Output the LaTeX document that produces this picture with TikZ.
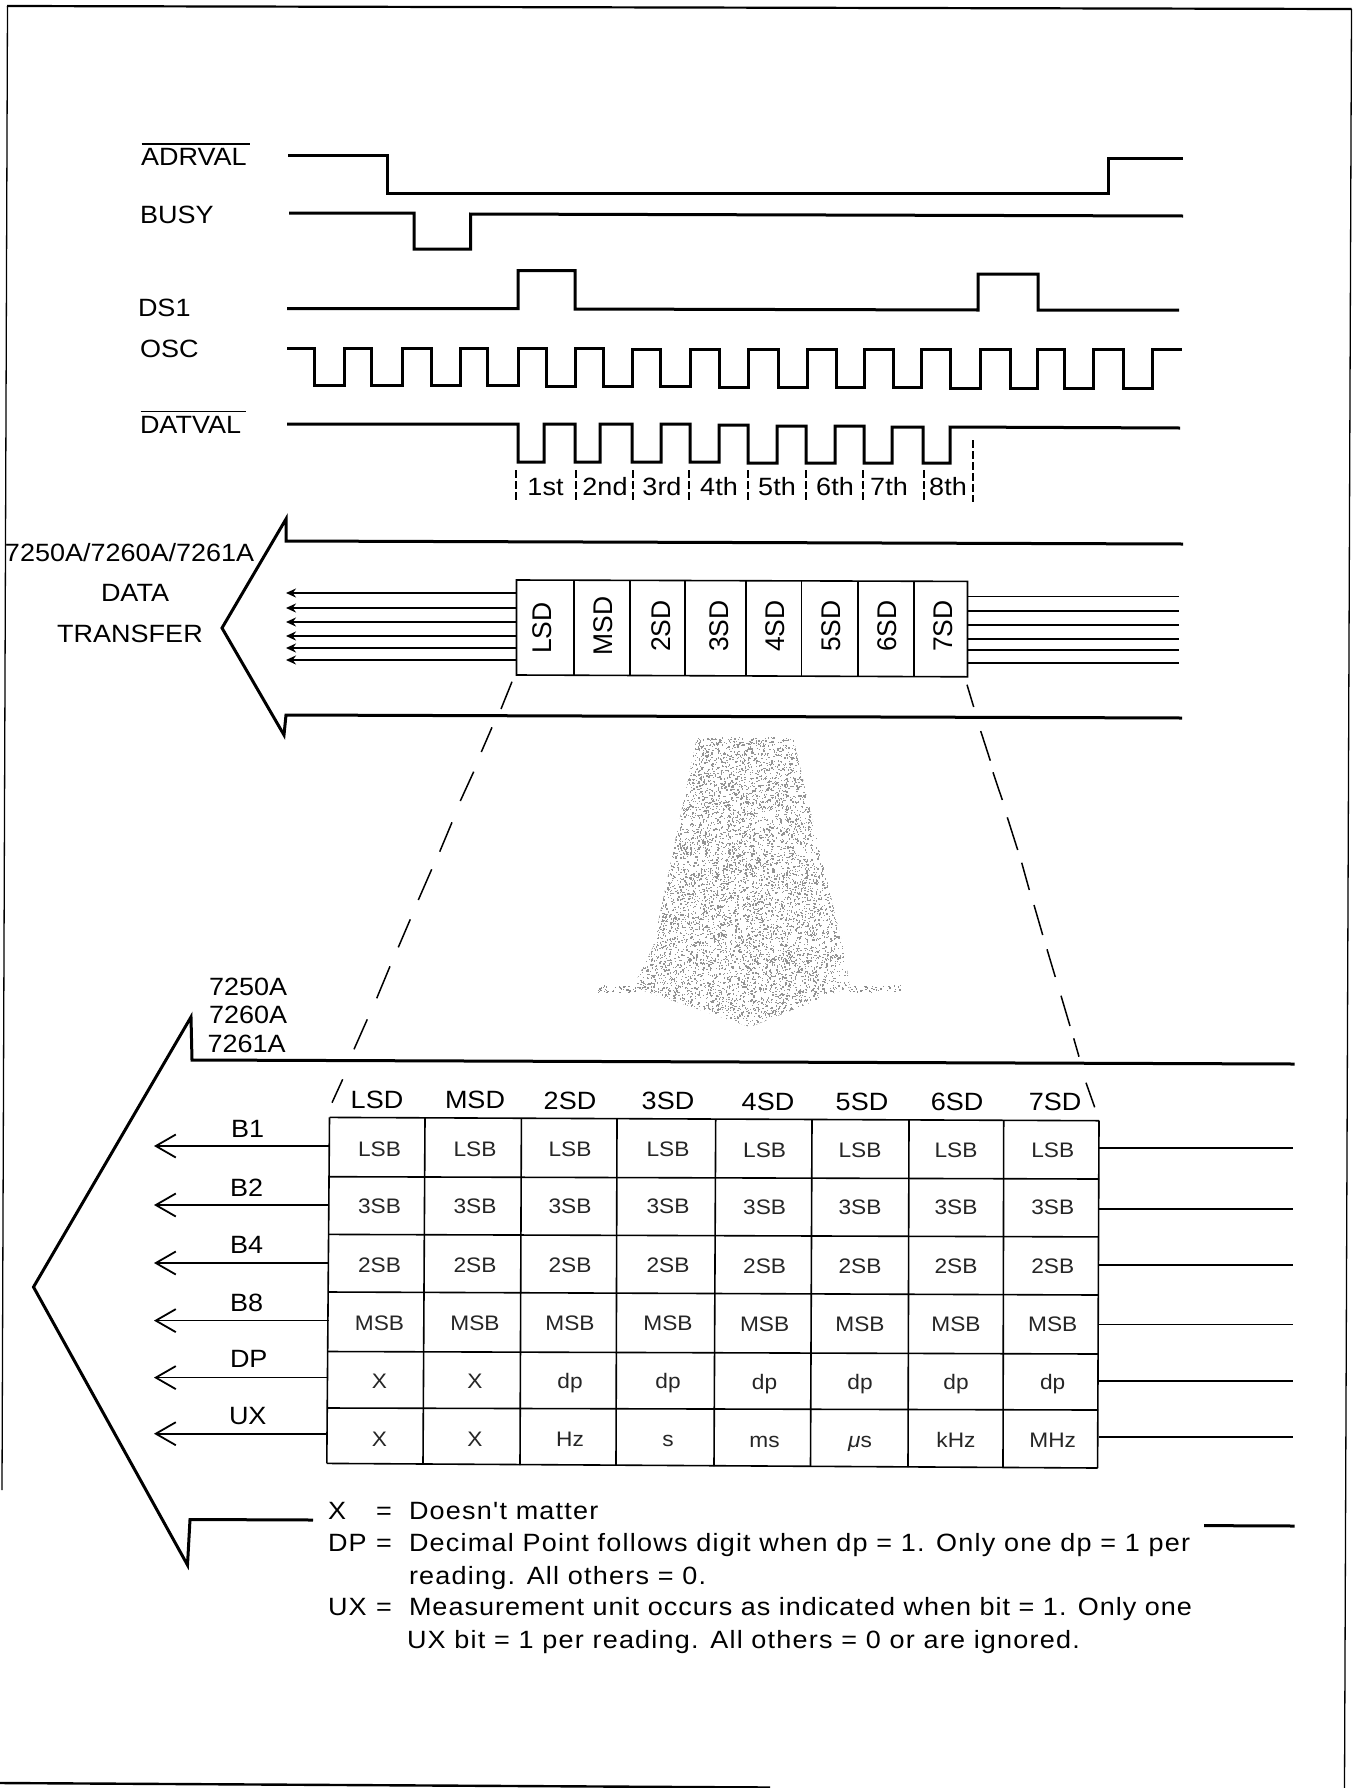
\documentclass[tikz,border=0pt]{standalone}
\usepackage{fontspec}
\usetikzlibrary{arrows.meta}
\setmainfont[FakeStretch=1.08]{Liberation Sans}
\newfontfamily\rotfont[FakeStretch=0.98]{Liberation Sans}
\newfontfamily\notefont[FakeStretch=1.08,LetterSpace=4.9]{Liberation Sans}
\newfontfamily\notefontb[FakeStretch=1.08,LetterSpace=4.05]{Liberation Sans}
\tikzset{
  lab/.style={inner sep=0pt,outer sep=0pt,anchor=base west,font=\fontsize{25}{25}\selectfont},
  clab/.style={inner sep=0pt,outer sep=0pt,anchor=base,font=\fontsize{25}{25}\selectfont},
  note/.style={inner sep=0pt,outer sep=0pt,anchor=base west,font=\notefont\fontsize{25}{25}\selectfont},
  noteb/.style={inner sep=0pt,outer sep=0pt,anchor=base west,font=\notefontb\fontsize{25}{25}\selectfont},
  cell/.style={inner sep=0pt,outer sep=0pt,anchor=base,text=black!85,font=\fontsize{21}{21}\selectfont},
  rotlab/.style={inner sep=0pt,outer sep=0pt,rotate=90,font=\rotfont\fontsize{27}{27}\selectfont},
  sig/.style={line width=3pt,line join=miter},
  bus/.style={line width=3pt,line join=miter},
  grid/.style={line width=1.6pt},
  wire/.style={line width=1.6pt},
  smallarr/.style={wire,-{Stealth[length=10pt,width=9pt]}},
  openarr/.style={wire,-{Straight Barb[length=20pt,width=23pt,line width=1.8pt]}},
  slash/.style={line width=1.5pt},
  tick/.style={line width=1.1pt,dash pattern=on 8pt off 3pt},
  frameln/.style={line width=1.3pt}
}
\newcommand\cellrow[9]{%
  \foreach \cx/\txt/\cn in {379.5/{#2}/1,475/{#3}/2,570/{#4}/3,668/{#5}/4,764.6/{#6}/5,860/{#7}/6,956/{#8}/7,1052.7/{#9}/8}{%
    \pgfmathsetmacro\cy{#1+(\cn-1)*0.27}
    \node[cell] (cell#1c\cn) at (\cx,\cy) {\txt};
  }%
}
\begin{document}
\begin{tikzpicture}[x=1pt,y=-1pt]
\useasboundingbox (0,0) rectangle (1358,1788);
\fill[white] (0,0) rectangle (1358,1788);
% page frame
\draw[line width=2.2pt] (7,6) -- (1351.5,9);
\draw[frameln] (7.5,6) -- (2,1490);
\draw[frameln] (1351.5,9) -- (1344.5,1788);
\draw[line width=2.4pt] (0,1783) -- (770,1787.5);
% timing labels
\node[lab] (ladrval) at (141,165.5) {ADRVAL};
\draw[line width=1.3pt] (141.5,144) -- (250,144);
\node[lab] (lbusy) at (140,223) {BUSY};
\node[lab] (lds) at (138,316.5) {DS1};
\node[lab] (losc) at (140,357) {OSC};
\node[lab] (ldatval) at (140,433) {DATVAL};
\draw[line width=1.3pt] (140.6,411.5) -- (246,411.5);
% waveforms
\draw[sig] (288,155) -| (387,193) -| (1108,158) -- (1183,158);
\draw[sig] (289,213) -| (414,249) -| (470.5,214) -- (1183,216);
\draw[sig] (287,308.6) -| (518,270.6) -| (575,309) -- (978,310) |- (1038,274) |- (1179,310);
\draw[sig] (287,348) -| (314,385) -| (344,348) -| (371,385) -| (402,348) -| (431,385) -| (460,348) -| (487,385) -| (518,348) -| (546,386) -| (575,348) -| (603,386) -| (632,349) -| (660,386) -| (690,349) -| (719,387) -| (748,349) -| (778,387) -| (807,349) -| (836,387) -| (864,349) -| (893,387) -| (921,349) -| (950,388) -| (980,349) -| (1010,388) -| (1037,349) -| (1064,388) -| (1093,349) -| (1123,388) -| (1152,349) -- (1182,349);
\draw[sig] (287,424) -| (518,462) -| (544,424) -| (575,462) -| (600,424) -| (632,462) -| (661,424) -| (690,462) -| (719,425) -| (748,463) -| (777,426) -| (806,463) -| (835,426) -| (864,463) -| (892,427) -| (923,463) -| (950,427) -- (1180,428);
% ordinal ticks and labels
\foreach \tx in {516,576,633,689,748,806,863,924}{\draw[tick] (\tx,470) -- (\tx,502);}
\draw[tick] (973,440) -- (973,502);
\foreach \tx/\tt in {545.5/1st,605/2nd,662/3rd,719/4th,777/5th,835/6th,889/7th,948/8th}{\node[clab] (ord\tt) at (\tx,495) {\tt};}
% upper bus arrow
\draw[bus] (1183,544) -- (286,541) -- (286,519) -- (222,628) -- (284,735) -- (286,715) -- (1182,718);
\node[lab] (ltitle) at (5,561) {7250A/7260A/7261A};
\node[clab] (ldata) at (135,601.6) {DATA};
\node[clab] (ltransfer) at (130,642) {TRANSFER};
% digit box
\coordinate (boxTL) at (516.5,580);
\coordinate (boxBL) at (516.5,675);
\coordinate (boxTR) at (967.5,581.4);
\coordinate (boxBR) at (967.5,676.8);
\draw[grid] (boxTL) -- (boxTR) -- (boxBR) -- (boxBL) -- cycle;
\foreach \dx in {573.7,630,685,746,801.6,858,914}{\draw[grid] (\dx,580.5) -- (\dx,676);}
\foreach \tx/\ty/\tt in {542/628/LSD,603.6/626/MSD,660.7/626/2SD,719/626/3SD,775/626/4SD,831/626/5SD,887/626/6SD,943/626/7SD}{\node[rotlab] (d\tt) at (\tx,\ty) {\tt};}
% upper wires
\foreach \yy/\k in {593/1,608/2,622/3,636/4,648/5,660/6}{
  \coordinate (ulb\k) at (516.5,\yy);
  \coordinate (ula\k) at (286,\yy);
  \draw[smallarr] (ulb\k) -- (ula\k);
}
\foreach \yy/\k in {596.5/1,610.7/2,625/3,639/4,650/5,663/6}{
  \coordinate (urb\k) at (967.5,\yy);
  \coordinate (ura\k) at (1179,\yy);
  \draw[wire] (urb\k) -- (ura\k);
}
% zoom lines
\foreach \a/\b/\c/\d in {512/681.7/501/709,492/727.3/481.3/752,473.7/771.7/460.3/801,452/822.3/439.7/851.7,431.7/869.3/418.3/900,410.3/919.3/398.3/947.3,390/966.3/376.7/998.3,367.3/1019.3/354/1049.3,342.7/1079.3/332/1102.7,
 967/684.7/973.7/707,980.7/731/990.3/760.7,993/772.3/1002.3/800,1007.3/817.3/1017.7/850,1021.7/862.7/1029.3/890,1034/905/1042.7/935,1047/949.3/1055.3/977,1061/995.7/1070/1026,1073.7/1038.3/1079/1056.7,1086/1082.7/1094.7/1107.3}{
  \draw[slash] (\a,\b) -- (\c,\d);
}
% stippled arrow
\begin{scope}
\clip (697,737) -- (793,737) -- (843,947) -- (850,987) -- (750,1027) -- (633,987) -- (653,947) -- cycle;
\pgfmathsetseed{7}
\foreach \i in {1,...,9000}{
  \pgfmathsetmacro\sx{633+217*rnd}
  \pgfmathsetmacro\sy{737+290*rnd}
  \fill[black!42] (\sx,\sy) rectangle +(1.3,1.3);
}
\end{scope}
\foreach \i in {1,...,45}{
  \pgfmathsetmacro\sx{597+40*rnd}
  \pgfmathsetmacro\sy{985+7*rnd}
  \fill[black!45] (\sx,\sy) rectangle +(1.3,1.3);
  \pgfmathsetmacro\sx{848+52*rnd}
  \pgfmathsetmacro\sy{985+7*rnd}
  \fill[black!45] (\sx,\sy) rectangle +(1.3,1.3);
}
% lower bus arrow
\draw[bus] (1294.5,1064) -- (192,1060) -- (191,1017) -- (33.5,1287) -- (187.5,1565) -- (190,1519.5) -- (313,1520);
\draw[bus] (1204,1525.6) -- (1294.5,1526);
\node[lab] (m1) at (209,995.6) {7250A};
\node[lab] (m2) at (209,1023) {7260A};
\node[lab] (m3) at (207.6,1052) {7261A};
% header
\foreach \tx/\ty/\tt in {377/1108/LSD,475/1108/MSD,570/1109/2SD,668/1109/3SD,768/1110/4SD,862/1110/5SD,957/1110/6SD,1055/1110/7SD}{\node[clab] (h\tt) at (\tx,\ty) {\tt};}
% table
\foreach \a/\b/\c/\d in {329.5/1117.4/326.8/1463.4,425/1118/423/1464,521.4/1118.5/520/1465,617/1119/616/1465.5,715.7/1119.5/714/1466,812/1119.8/810.5/1466.5,909/1120/908/1467,1003.7/1120.4/1003/1467.5,1099/1120.7/1097.6/1468}{
  \draw[grid] (\a,\b) -- (\c,\d);
}
\foreach \a/\b/\c/\d in {329.5/1117.4/1099/1120.7,329/1176.7/1099/1179,328.7/1234.4/1098.6/1236.9,328.5/1292/1098.5/1295,328/1351.5/1098.3/1354,327.5/1408/1098/1410,326.8/1463.4/1097.6/1468}{
  \draw[grid] (\a,\b) -- (\c,\d);
}
\cellrow{1156}{LSB}{LSB}{LSB}{LSB}{LSB}{LSB}{LSB}{LSB}
\cellrow{1213}{3SB}{3SB}{3SB}{3SB}{3SB}{3SB}{3SB}{3SB}
\cellrow{1272}{2SB}{2SB}{2SB}{2SB}{2SB}{2SB}{2SB}{2SB}
\cellrow{1330}{MSB}{MSB}{MSB}{MSB}{MSB}{MSB}{MSB}{MSB}
\cellrow{1388}{X}{X}{dp}{dp}{dp}{dp}{dp}{dp}
\cellrow{1446}{X}{X}{Hz}{s}{ms}{\textit{μ}s}{kHz}{MHz}
% table wires
\foreach \yy/\xx/\k/\tt/\bx/\by in {1146/329/1/B1/231/1137,1205/329/2/B2/230/1196,1263/328.7/3/B4/230/1253,1320.6/328.5/4/B8/230/1311,1377.6/328/5/DP/230/1367,1433.7/327.5/6/UX/229/1424}{
  \coordinate (tlb\k) at (\xx,\yy);
  \coordinate (tla\k) at (154,\yy);
  \draw[openarr] (tlb\k) -- (tla\k);
  \node[lab] (sig\tt) at (\bx,\by) {\tt};
}
\foreach \yy/\k in {1148/1,1209/2,1265/3,1324.6/4,1381/5,1437/6}{
  \coordinate (trb\k) at (1099,\yy);
  \coordinate (tra\k) at (1293,\yy);
  \draw[wire] (trb\k) -- (tra\k);
}
% notes
\node[note] (nx) at (328,1519.3) {X};
\node[note] (nxe) at (376,1519.3) {=};
\node[note] (nxt) at (409,1519.3) {Doesn't matter};
\node[note] (nd) at (328,1551.7) {DP};
\node[note] (nde) at (376,1551.7) {=};
\node[note] (ndt) at (409,1551.7) {Decimal Point follows digit when dp = 1. Only one dp = 1 per};
\node[note] (ndu) at (409,1584.3) {reading. All others = 0.};
\node[note] (nu) at (328,1615.7) {UX};
\node[note] (nue) at (376,1615.7) {=};
\node[noteb] (nut) at (409,1615.7) {Measurement unit occurs as indicated when bit = 1. Only one};
\node[note] (nuu) at (407,1648.3) {UX bit = 1 per reading. All others = 0 or are ignored.};
\end{tikzpicture}
\end{document}
